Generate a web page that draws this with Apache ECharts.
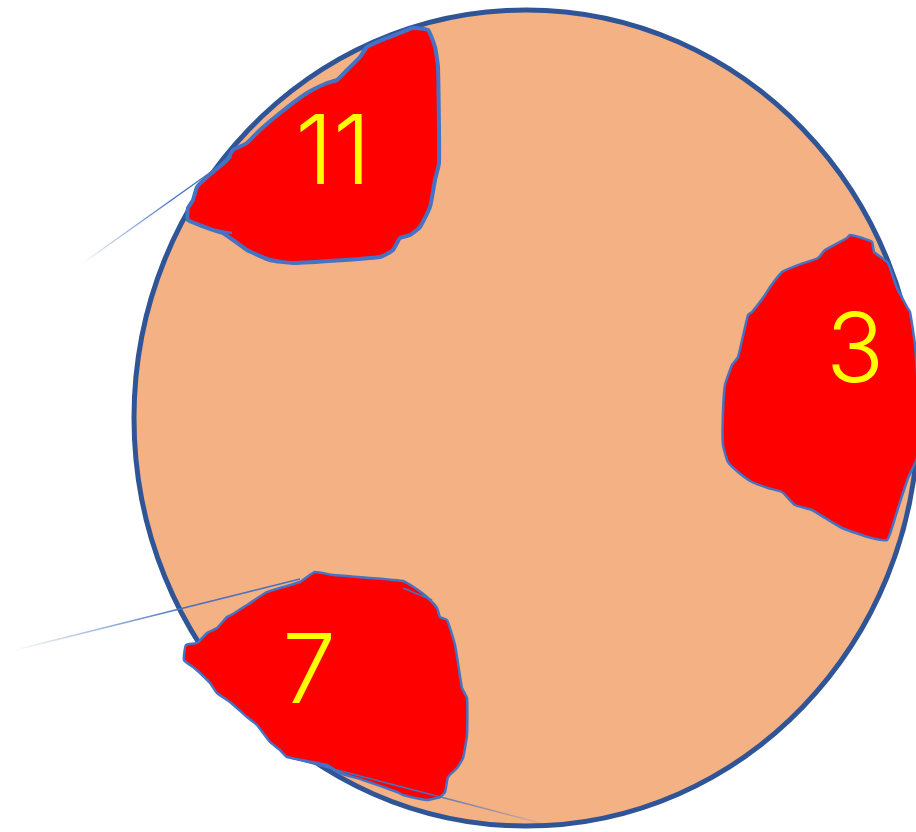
<!DOCTYPE html>
<html>
<head>
<meta charset="utf-8">
<script src="https://cdn.jsdelivr.net/npm/echarts@6/dist/echarts.min.js"></script>
<style>
html,body{margin:0;padding:0;background:#fff;}
#chart{width:916px;height:832px;}
</style>
</head>
<body>
<div id="chart"></div>
<script>
// ---- data (chart units: x 0..916, y 0..832 downwards) ----
var clockHours = ['11', '3', '7'];
var labelAnchors = [[333, 155], [855, 353], [309, 674]];
var dialEllipse = [[526, 418, 392, 408]]; // cx, cy, rx, ry
var blob11 = [[413,28],[428,30],[435,47],[438,67],[439,163],[435,180],[430,207],[420,227],[410,235],[400,238],[393,250],[380,257],[293,263],[270,260],[247,250],[223,233],[213,230],[188,220],[188,208],[193,200],[197,187],[207,177],[227,160],[233,150],[247,143],[260,130],[280,113],[307,93],[327,83],[337,80],[347,70],[360,57],[367,47],[387,38],[400,33]];
var blob3 = [[850,235],[862,238],[872,242],[874,252],[882,258],[888,263],[897,288],[907,307],[910,312],[915,345],[918,392],[917,458],[908,478],[900,502],[895,518],[887,540],[868,537],[842,528],[825,518],[812,510],[795,505],[782,492],[768,488],[752,482],[738,472],[728,462],[723,445],[723,412],[725,385],[732,365],[738,357],[748,315],[752,312],[765,295],[770,287],[782,272],[798,265],[818,258],[825,250],[838,243],[847,238]];
var blob7 = [[315,572],[333,575],[403,581],[418,590],[428,598],[437,608],[440,617],[447,620],[455,645],[462,688],[467,698],[467,735],[463,758],[457,768],[448,777],[445,792],[440,797],[427,800],[403,795],[397,792],[363,780],[340,773],[327,765],[287,757],[280,750],[270,742],[257,725],[247,717],[230,702],[217,693],[210,683],[200,673],[193,667],[184,660],[186,645],[197,643],[207,633],[217,628],[227,617],[233,614],[247,605],[267,592],[280,588],[300,582],[307,577]];
var blobs = [blob11, blob3, blob7];
var blobStrokeWidths = [4, 2.5, 2.5];
var leader1 = [[83,263],[232,157]];
var leader2 = [[15,650],[300,579]];
var leader3 = [[287,757],[552,826]];
var accent1 = [[213,230],[232,233]];
var accent2 = [[403,588],[432,600]];

function fade(dir){
  var c0 = 'rgba(68,114,196,0)', c1 = '#4472C4';
  return {type:'linear', x:0, y:0, x2:1, y2:0,
    colorStops: dir === 'left' ? [{offset:0,color:c0},{offset:0.6,color:c1},{offset:1,color:c1}]
                               : [{offset:0,color:c1},{offset:0.5,color:c1},{offset:1,color:c0}]};
}
function lineSeries(data, color, width, z){
  return {type:'line', data:data, symbol:'none', silent:true, z:z, animation:false,
    lineStyle:{color:color, width:width}};
}

var chart = echarts.init(document.getElementById('chart'));
chart.setOption({
  animation:false,
  backgroundColor:'#ffffff',
  grid:{left:0, right:0, top:0, bottom:0},
  xAxis:{type:'value', min:0, max:916, show:false},
  yAxis:{type:'value', min:0, max:832, inverse:true, show:false},
  series:[
    {
      type:'custom', z:1, silent:true, clip:false,
      data:dialEllipse,
      renderItem:function(params, api){
        var c = api.coord([api.value(0), api.value(1)]);
        var rx = api.size([api.value(2), 0])[0];
        var ry = api.size([0, api.value(3)])[1];
        return {type:'ellipse', shape:{cx:c[0], cy:c[1], rx:rx, ry:ry},
          style:{fill:'#F4B183', stroke:'#2F5597', lineWidth:5}};
      }
    },
    {
      type:'custom', z:2, silent:true, clip:true,
      data:[0,1,2],
      renderItem:function(params, api){
        var i = params.dataIndex;
        var pts = blobs[i].map(function(p){ return api.coord(p); });
        return {type:'polygon', shape:{points:pts, smooth:0.15},
          style:{fill:'#FF0000', stroke:'#4472C4', lineWidth:blobStrokeWidths[i], lineJoin:'round'}};
      }
    },
    lineSeries(leader1, fade('left'), 1.4, 3),
    lineSeries(leader2, fade('left'), 1.4, 3),
    lineSeries(leader3, fade('right'), 1.4, 3),
    lineSeries(accent1, '#4472C4', 2.5, 3),
    lineSeries(accent2, '#4472C4', 1.5, 3),
    {
      type:'custom', z:4, silent:true,
      data:labelAnchors.map(function(p, i){ return [p[0], p[1], i]; }),
      renderItem:function(params, api){
        var c = api.coord([api.value(0), api.value(1)]);
        return {type:'text', x:c[0], y:c[1],
          style:{text:clockHours[params.dataIndex], fill:'#FFFF00',
            font:'350 96px Inter, "Open Sans", sans-serif', align:'center', verticalAlign:'middle'}};
      }
    }
  ]
});
</script>
</body>
</html>
